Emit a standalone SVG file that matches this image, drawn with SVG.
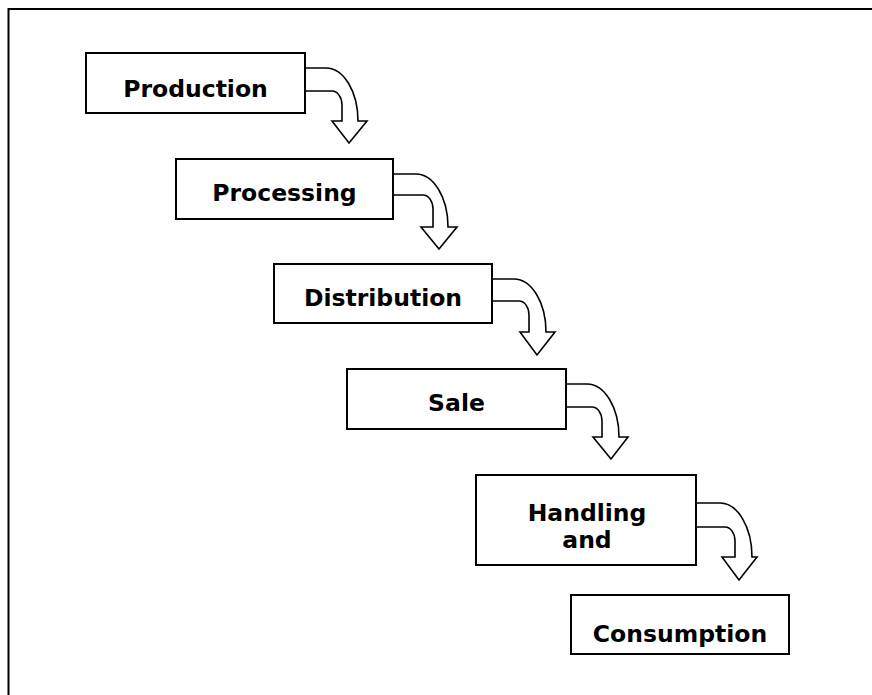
<svg xmlns="http://www.w3.org/2000/svg" width="872" height="695" viewBox="0 0 872 695">
  <style>
    .frame { fill: none; stroke: #000; stroke-width: 2; }
    .box { fill: #fff; stroke: #000; stroke-width: 2; }
    .label { font-family: "DejaVu Sans", Verdana, sans-serif; font-weight: bold; font-size: 23.5px; fill: #000; text-anchor: middle; }
    .flow { fill: #fff; stroke: #000; stroke-width: 1.6; stroke-linejoin: miter; }
  </style>
  <rect width="872" height="695" fill="#fff"/>
  <!-- page frame, open at right and bottom -->
  <path class="frame" d="M8.5,696 V9 H873"/>

  <!-- curved down arrows between stages -->
  <g id="connectors">
    <path class="flow" d="M305,68 H326 A32,53 0 0 1 358,121 H367 L349,143 L332,121 H342 V105 A10,14 0 0 0 332,91 H305"/>
    <path class="flow" d="M393,174 H416 A32,53 0 0 1 448,227 H457 L439,249 L421,227 H433 V209 A10,14 0 0 0 423,195 H393"/>
    <path class="flow" d="M492,279 H514 A32,53 0 0 1 546,332 H555 L537,355 L520,332 H529 V315 A10,14 0 0 0 519,301 H492"/>
    <path class="flow" d="M566,384 H587 A32,53 0 0 1 619,437 H628 L611,459 L593,437 H602 V421 A10,14 0 0 0 592,407 H566"/>
    <path class="flow" d="M696,503 H720 A32,54 0 0 1 752,557 H757 L739,580 L722,557 H735 V541 A10,14 0 0 0 725,527 H696"/>
  </g>

  <g id="production">
    <rect class="box" x="86" y="53" width="219" height="60"/>
    <text class="label" x="195.5" y="97">Production</text>
  </g>
  <g id="processing">
    <rect class="box" x="176" y="159" width="217" height="60"/>
    <text class="label" x="284.5" y="201">Processing</text>
  </g>
  <g id="distribution">
    <rect class="box" x="274" y="264" width="218" height="59"/>
    <text class="label" x="383" y="306">Distribution</text>
  </g>
  <g id="sale">
    <rect class="box" x="347" y="369" width="219" height="60"/>
    <text class="label" x="456.5" y="411">Sale</text>
  </g>
  <g id="handling">
    <rect class="box" x="476" y="475" width="220" height="90"/>
    <text class="label" x="587" y="521">Handling<tspan x="587" dy="26.5">and</tspan></text>
  </g>
  <g id="consumption">
    <rect class="box" x="571" y="595" width="218" height="59"/>
    <text class="label" x="680" y="642">Consumption</text>
  </g>
</svg>
